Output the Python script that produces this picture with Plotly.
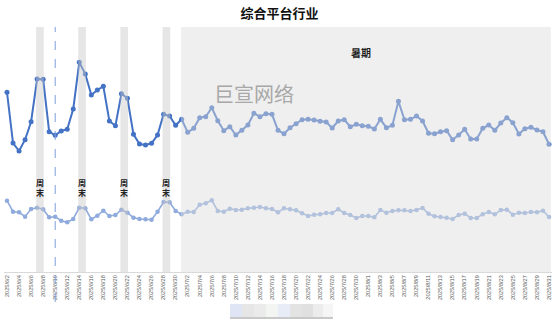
import pandas as pd
import plotly.graph_objects as go

# ---- data ----
dates = pd.date_range("2025-06-02", "2025-08-31", freq="D")

upper = [179.7, 129, 121, 132.3, 150.3, 193, 192.7, 140.3, 136.7, 141, 142.7, 163, 209.7, 198, 177, 182,
         185.7, 151, 146.3, 178.3, 173.7, 137.7, 128, 127, 128.7, 137, 157.7, 156, 146.7, 152.7, 139.7,
         143.7, 154.3, 155.3, 164.3, 151.3, 141.3, 145.3, 137, 141.7, 147, 158.7, 155.3, 158.3, 157.7,
         141.7, 138.3, 144.3, 148.3, 152.3, 152.7, 152, 150.7, 150, 144, 151, 152.3, 145.3, 147.7, 146.3,
         145.7, 143, 152.7, 144.3, 146.7, 170.7, 152.3, 152.7, 156, 151, 138.7, 138.3, 140.3, 141.3,
         132.3, 137, 142.7, 133, 133, 143.7, 147, 141.7, 149, 154.3, 149.3, 138, 143.3, 144.7, 142,
         140.3, 127.7]

lower = [71.3, 60.3, 59.7, 55.3, 63, 64.3, 62.7, 54.7, 55.3, 51.3, 49.7, 53, 64.3, 63.7, 52.7, 56.3,
         61.3, 56, 57, 62.3, 59.3, 54.3, 53, 52.7, 52.3, 60.3, 70, 69.7, 61, 57.7, 60.3, 60, 67.3, 68.7,
         71.7, 61, 60.3, 63.3, 62, 62.3, 63.7, 64.3, 65, 63.7, 63, 59.7, 63.7, 62.7, 61.7, 58.7, 56,
         57.3, 57.7, 59, 59, 62.7, 59, 57, 54, 56, 56, 54.7, 62, 59.3, 61, 61.7, 61.7, 61, 62, 64, 58.3,
         55.7, 55, 54.3, 53, 57, 58.3, 54, 54, 57.7, 60, 57.7, 62, 62.3, 57.3, 59.3, 59, 60, 59.7, 61.3, 55]

weekends = [("2025-06-07", "2025-06-08"), ("2025-06-14", "2025-06-15"),
            ("2025-06-21", "2025-06-22"), ("2025-06-28", "2025-06-29")]
summer = ("2025-07-01", "2025-08-31")
marker_day = "2025-06-10"

title = "综合平台行业"
weekend_label = "周<br>末"
summer_label = "暑期"
watermark = "巨宣网络"

# ---- layout geometry ----
W, H = 557, 322
ML, MR, MT, MB = 4, 5, 27, 50
PW, PH = W - ML - MR, H - MT - MB


def px_x(p):
    return (p - ML) / PW


def px_y(p):
    return (H - MB - p) / PH


day = pd.Timedelta(days=1)

fig = go.Figure()
fig.add_trace(go.Scatter(x=dates, y=lower, mode="lines+markers",
                         line=dict(color="#8FAADC", width=1.6),
                         marker=dict(size=4.5, color="#8FAADC"), showlegend=False))
fig.add_trace(go.Scatter(x=dates, y=upper, mode="lines+markers",
                         line=dict(color="#4472C4", width=2),
                         marker=dict(size=5, color="#4472C4"), showlegend=False))

shapes = []
for a, b in weekends:
    shapes.append(dict(type="rect", xref="x", yref="paper",
                       x0=pd.Timestamp(a) - 0.17 * day, x1=pd.Timestamp(b) + 0.1 * day,
                       y0=0, y1=1, fillcolor="rgba(200,200,200,0.45)", line_width=0, layer="above"))
shapes.append(dict(type="rect", xref="x", yref="paper",
                   x0=pd.Timestamp(summer[0]) - 0.1 * day, x1=pd.Timestamp(summer[1]) + 0.3 * day,
                   y0=0, y1=1, fillcolor="rgba(220,220,220,0.46)", line_width=0, layer="above"))
shapes.append(dict(type="line", xref="x", yref="paper", x0=marker_day, x1=marker_day,
                   y0=px_y(302), y1=1, line=dict(color="#7F9FDA", width=1, dash="dash"), layer="above"))

# masked legend blocks
legend_cols = ["#dfe5f5", "#e6e6e6", "#ebebeb", "#f3f5f3", "#e7ecf7", "#e3e3e3", "#e0e0e0", "#ececec", "#f5f5f5"]
edges = [230, 242, 254, 266, 278, 290, 302, 313, 323, 333]
for i, c in enumerate(legend_cols):
    shapes.append(dict(type="rect", xref="paper", yref="paper", x0=px_x(edges[i]), x1=px_x(edges[i + 1]),
                       y0=px_y(317), y1=px_y(304), fillcolor=c, line_width=0))
shapes.append(dict(type="rect", xref="paper", yref="paper", x0=px_x(230), x1=px_x(333),
                   y0=px_y(319), y1=px_y(317), fillcolor="#c8c8c8", line_width=0))

annotations = []
for a, b in weekends:
    mid = pd.Timestamp(a) + 0.47 * day
    annotations.append(dict(x=mid, y=px_y(187), xref="x", yref="paper", text="<b>" + weekend_label + "</b>",
                            showarrow=False, font=dict(size=8, color="#222", family="Noto Sans CJK SC")))
annotations.append(dict(x=px_x(361), y=px_y(43), xref="paper", yref="paper", text="<b>" + summer_label + "</b>",
                        showarrow=False, font=dict(size=10, color="#222", family="Noto Sans CJK SC")))
annotations.append(dict(x=px_x(254), y=px_y(77), xref="paper", yref="paper", text=watermark,
                        showarrow=False, font=dict(size=20, color="#a8a8a8", family="Noto Sans CJK SC")))

fig.update_layout(
    width=W, height=H,
    margin=dict(l=ML, r=MR, t=MT, b=MB),
    paper_bgcolor="white", plot_bgcolor="white",
    title=dict(text="<b>" + title + "</b>", x=0.502, xanchor="center", y=1 - 13 / H, yanchor="middle",
               font=dict(size=13, color="#111", family="Noto Sans CJK SC")),
    shapes=shapes, annotations=annotations,
    xaxis=dict(type="date", range=[dates[0] - 0.5 * day, dates[-1] + 0.5 * day],
               tick0=dates[0], dtick=2 * 86400000, tickformat="%Y/%-m/%-d", tickangle=-90,
               tickfont=dict(size=5.6, color="#595959", family="Liberation Sans"),
               showgrid=False, zeroline=False, showline=True, linecolor="#d9d9d9", linewidth=1,
               ticks=""),
    yaxis=dict(range=[0, 245], visible=False, showgrid=False),
)

fig.write_html("out.html")
